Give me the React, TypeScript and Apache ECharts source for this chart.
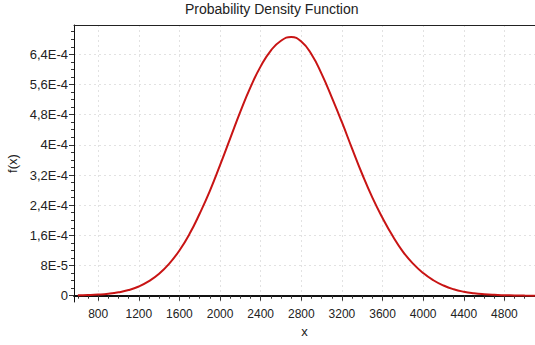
import { useEffect, useRef } from "react";
import * as echarts from "echarts";

const xValues = [
  600, 700, 800, 900, 1000, 1100, 1200, 1300, 1400, 1500, 1600, 1700, 1800, 1900,
  2000, 2100, 2200, 2300, 2400, 2500, 2600, 2700, 2800, 2900, 3000, 3100, 3200,
  3300, 3400, 3500, 3600, 3700, 3800, 3900, 4000, 4100, 4200, 4300, 4400, 4500,
  4600, 4700, 4800, 4900, 5000, 5100,
];
const densityValues = [
  0.9e-6, 1.7e-6, 3.0e-6, 5.2e-6, 9.0e-6, 1.5e-5, 2.45e-5, 3.85e-5, 5.8e-5, 8.5e-5,
  1.2e-4, 1.64e-4, 2.18e-4, 2.78e-4, 3.46e-4, 4.17e-4, 4.88e-4, 5.53e-4, 6.08e-4,
  6.5e-4, 6.76e-4, 6.86e-4, 6.74e-4, 6.4e-4, 5.88e-4, 5.26e-4, 4.6e-4, 3.9e-4,
  3.22e-4, 2.6e-4, 2.06e-4, 1.58e-4, 1.17e-4, 8.5e-5, 6.0e-5, 4.1e-5, 2.7e-5,
  1.7e-5, 1.05e-5, 6.4e-6, 3.8e-6, 2.2e-6, 1.3e-6, 7e-7, 4e-7, 2e-7,
];

const xMajorTicks = [800, 1200, 1600, 2000, 2400, 2800, 3200, 3600, 4000, 4400, 4800];
const xTickLabels = ["800", "1200", "1600", "2000", "2400", "2800", "3200", "3600", "4000", "4400", "4800"];
const yMajorTicks = [0, 8e-5, 1.6e-4, 2.4e-4, 3.2e-4, 4e-4, 4.8e-4, 5.6e-4, 6.4e-4];
const yTickLabels = ["0", "8E-5", "1,6E-4", "2,4E-4", "3,2E-4", "4E-4", "4,8E-4", "5,6E-4", "6,4E-4"];

const X_MIN = 562;
const X_MAX = 5101;
const Y_MIN = -1.67e-5;
const Y_MAX = 7.177e-4;

const xMinorTicks: number[] = [];
for (let i = 6; i <= 51; i++) xMinorTicks.push(i * 100);
const yMinorTicks: number[] = [];
for (let i = 0; i <= 35; i++) yMinorTicks.push((i * 2) / 100000);

const FONT = "'Liberation Sans', Arial, sans-serif";
const TEXT = "#222";
const GRID_LINE = { show: true, lineStyle: { color: "#e2e2e2", type: [2, 3] as any, width: 1 } };

function labelFor(values: number[], labels: string[], v: number) {
  const i = values.findIndex((t) => Math.abs(t - v) < Math.abs(values[1] - values[0]) * 1e-3);
  return i >= 0 ? labels[i] : "";
}

export default function App() {
  const ref = useRef<HTMLDivElement>(null);
  useEffect(() => {
    document.body.style.margin = "0";
    const chart = echarts.init(ref.current!, null, { renderer: "svg" });
    chart.setOption({
      animation: false,
      textStyle: { fontFamily: FONT },
      title: {
        text: "Probability Density Function",
        left: 185,
        top: 2,
        padding: 0,
        textStyle: { fontSize: 14, fontWeight: "normal", color: TEXT, fontFamily: FONT },
      },
      grid: { left: 74, top: 25, right: 0, bottom: 43, containLabel: false, outerBoundsMode: "none" },
      xAxis: [
        {
          type: "value",
          min: X_MIN,
          max: X_MAX,
          position: "bottom",
          name: "x",
          nameLocation: "middle",
          nameGap: 23,
          nameTextStyle: { fontSize: 13, color: TEXT, fontFamily: FONT },
          axisLine: { show: true, lineStyle: { color: "#111", width: 2 } },
          axisTick: { show: true, length: 3, customValues: xMinorTicks, lineStyle: { color: "#333" } },
          axisLabel: {
            customValues: xMajorTicks,
            margin: 6,
            fontSize: 12,
            color: TEXT,
            fontFamily: FONT,
            formatter: (v: number) => labelFor(xMajorTicks, xTickLabels, v),
          },
          splitLine: { show: false },
        },
        {
          type: "value",
          min: X_MIN,
          max: X_MAX,
          position: "bottom",
          axisLine: { show: false },
          axisTick: { show: true, length: 5, customValues: xMajorTicks, lineStyle: { color: "#333" } },
          axisLabel: { show: false },
          splitLine: GRID_LINE,
        },
        {
          type: "value",
          min: X_MIN,
          max: X_MAX,
          position: "top",
          axisLine: { show: true, lineStyle: { color: "#222", width: 1 } },
          axisTick: { show: false },
          axisLabel: { show: false },
          splitLine: { show: false },
        },
      ],
      yAxis: [
        {
          type: "value",
          min: Y_MIN,
          max: Y_MAX,
          position: "left",
          name: "f(x)",
          nameLocation: "middle",
          nameGap: 52,
          nameRotate: 90,
          nameTextStyle: { fontSize: 13, color: TEXT, fontFamily: FONT },
          axisLine: { show: true, lineStyle: { color: "#111", width: 1 } },
          axisTick: { show: true, length: 3, customValues: yMinorTicks, lineStyle: { color: "#333" } },
          axisLabel: {
            customValues: yMajorTicks,
            margin: 6,
            fontSize: 13,
            color: TEXT,
            fontFamily: FONT,
            formatter: (v: number) => labelFor(yMajorTicks, yTickLabels, v),
          },
          splitLine: { show: false },
        },
        {
          type: "value",
          min: Y_MIN,
          max: Y_MAX,
          position: "left",
          axisLine: { show: false },
          axisTick: { show: true, length: 5, customValues: yMajorTicks, lineStyle: { color: "#333" } },
          axisLabel: { show: false },
          splitLine: GRID_LINE,
        },
      ],
      series: [
        {
          type: "line",
          xAxisIndex: 0,
          yAxisIndex: 0,
          data: xValues.map((x, i) => [x, densityValues[i]]),
          showSymbol: false,
          smooth: true,
          lineStyle: { color: "#c81414", width: 2 },
          itemStyle: { color: "#c81414" },
          z: 5,
        },
      ],
    });
    return () => chart.dispose();
  }, []);
  return <div ref={ref} style={{ width: 535, height: 345 }} />;
}
